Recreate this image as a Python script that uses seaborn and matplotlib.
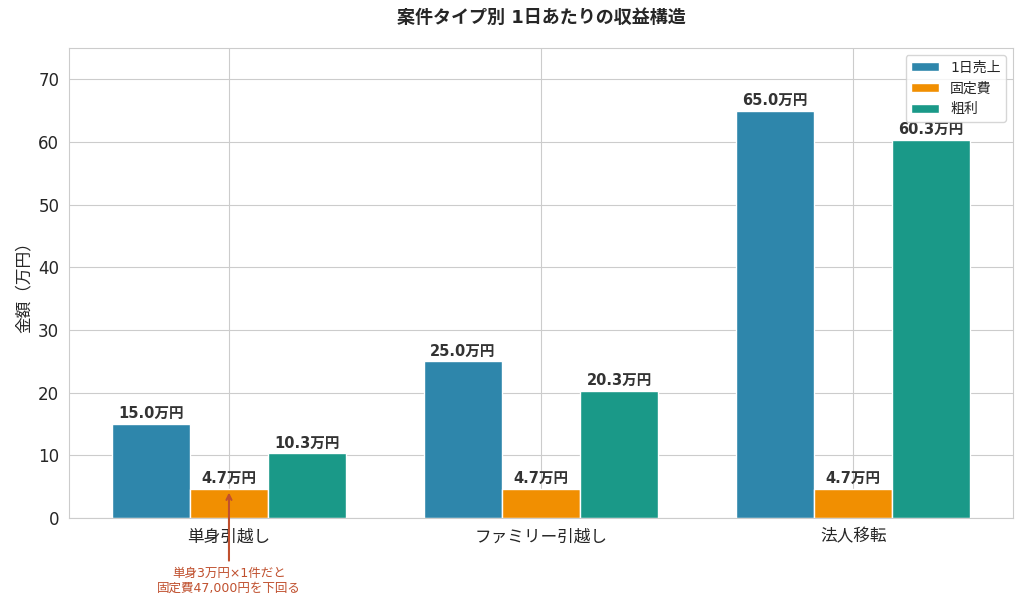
import matplotlib
matplotlib.use('Agg')
import matplotlib.pyplot as plt
import pandas as pd
import seaborn as sns

CATEGORIES = ['単身引越し', 'ファミリー引越し', '法人移転']
SERIES = ['1日売上', '固定費', '粗利']
SALES = [15.0, 25.0, 65.0]
FIXED = [4.7, 4.7, 4.7]
PROFIT = [10.3, 20.3, 60.3]
COLORS = ['#2E86AB', '#F18F01', '#1A9988']
NOTE = '単身3万円×1件だと\n固定費47,000円を下回る'


def main():
    sns.set_style('whitegrid')
    plt.rcParams['font.family'] = ['DejaVu Sans', 'Noto Sans CJK JP']

    rows = []
    for name, vals in zip(SERIES, [SALES, FIXED, PROFIT]):
        for cat, v in zip(CATEGORIES, vals):
            rows.append({'category': cat, 'series': name, 'value': v})
    df = pd.DataFrame(rows)

    fig = plt.figure(figsize=(10.24, 6.06), dpi=100)
    ax = fig.add_axes([0.0674, 0.1452, 0.922, 0.7756])
    sns.barplot(data=df, x='category', y='value', hue='series', palette=COLORS,
                saturation=1, width=0.75, edgecolor='white', linewidth=1, ax=ax)

    for container in ax.containers:
        ax.bar_label(container, labels=[f'{b.get_height():.1f}万円' for b in container],
                     padding=2, fontsize=10.5, fontweight='bold', color='#333333')

    ax.set_axisbelow(True)
    ax.xaxis.grid(True)
    ax.yaxis.grid(True)
    ax.set_ylim(0, 75)
    ax.set_xlim(-0.5125, 2.5125)
    ax.set_xlabel('')
    ax.set_ylabel('金額（万円）', fontsize=12)
    ax.tick_params(axis='both', labelsize=12)
    ax.set_title('案件タイプ別 1日あたりの収益構造', fontsize=13, fontweight='bold', pad=18)
    ax.legend(loc='upper right', fontsize=10, title=None)

    ax.annotate(NOTE, xy=(0, 4.5), xytext=(0, -10.0), textcoords='data',
                ha='center', va='center', fontsize=9, color='#C0502E',
                annotation_clip=False,
                arrowprops=dict(arrowstyle='->', color='#C0502E', lw=1.5))

    fig.savefig('out.png', dpi=100)
    plt.close(fig)


if __name__ == '__main__':
    main()
